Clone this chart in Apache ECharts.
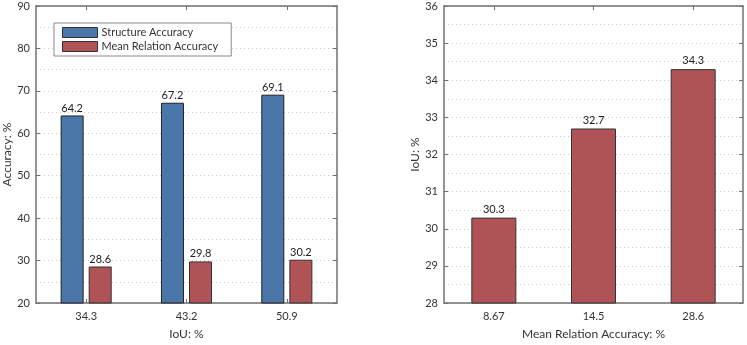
<!DOCTYPE html>
<html>
<head>
<meta charset="utf-8">
<script src="https://cdn.jsdelivr.net/npm/echarts@6/dist/echarts.min.js"></script>
<style>html,body{margin:0;padding:0;background:#fff}#c{width:747px;height:345px}</style>
</head>
<body>
<div id="c"></div>
<script>
// Left chart data
const iouCategories = ['34.3', '43.2', '50.9'];
const structureAccuracy = [64.2, 67.2, 69.1];
const meanRelationAccuracy = [28.6, 29.8, 30.2];
// Right chart data
const mraCategories = ['8.67', '14.5', '28.6'];
const iouValues = [30.3, 32.7, 34.3];

const FONT = 'Lato';
const TXT = '#333';
const AX = '#707070';
const BLUE = '#4a76aa';
const RED = '#b05356';

function xAx(grid, data, name, top) {
  return {
    type: 'category', gridIndex: grid, data: data, position: top ? 'top' : 'bottom',
    name: top ? '' : name, nameLocation: 'middle', nameGap: 25,
    nameTextStyle: {fontFamily: FONT, fontSize: 12, color: TXT},
    axisLine: {show: true, lineStyle: {color: AX, width: 1.5}},
    axisTick: {show: true, inside: true, length: 4, alignWithLabel: true, lineStyle: {color: AX}},
    axisLabel: {show: !top, margin: 8, fontFamily: FONT, fontSize: 11, color: TXT},
    splitLine: {show: false}
  };
}
function yAx(grid, min, max, interval, name, right, gap) {
  return {
    type: 'value', gridIndex: grid, min: min, max: max, interval: interval,
    position: right ? 'right' : 'left',
    name: right ? '' : name, nameLocation: 'middle', nameGap: gap || 24,
    nameTextStyle: {fontFamily: FONT, fontSize: 12, color: TXT},
    axisLine: {show: true, lineStyle: {color: AX, width: 1.5}},
    axisTick: {show: true, inside: true, length: 4, lineStyle: {color: AX}},
    axisLabel: {show: !right, margin: 6, fontFamily: FONT, fontSize: 11, color: TXT},
    splitLine: {show: !right, lineStyle: {color: '#c8c8c8', type: [1, 3], width: 1}},
    minorTick: {show: false, splitNumber: 2},
    minorSplitLine: {show: !right, lineStyle: {color: '#c8c8c8', type: [1, 3], width: 1}}
  };
}

const chart = echarts.init(document.getElementById('c'), null, {renderer: 'canvas'});
chart.setOption({
  animation: false,
  backgroundColor: '#fff',
  grid: [
    {left: 35, top: 6, width: 302, height: 302},
    {left: 444, top: 6, width: 299, height: 301}
  ],
  legend: {
    show: true, orient: 'vertical', left: 54, top: 23,
    data: ['Structure Accuracy', 'Mean Relation Accuracy'],
    itemWidth: 35, itemHeight: 10, itemGap: 3,
    padding: [4, 13, 4, 8],
    backgroundColor: '#fff', borderColor: '#888', borderWidth: 1,
    icon: 'rect',
    itemStyle: {borderWidth: 1, borderColor: '#333'},
    textStyle: {fontFamily: FONT, fontSize: 11, color: TXT, padding: [0, 0, 0, -1]}
  },
  xAxis: [
    xAx(0, iouCategories, 'IoU: %', false),
    xAx(0, iouCategories, '', true),
    xAx(1, mraCategories, 'Mean Relation Accuracy: %', false),
    xAx(1, mraCategories, '', true)
  ],
  yAxis: [
    yAx(0, 20, 90, 10, 'Accuracy: %', false, 23),
    yAx(0, 20, 90, 10, '', true),
    yAx(1, 28, 36, 1, 'IoU: %', false, 20),
    yAx(1, 28, 36, 1, '', true)
  ],
  series: [
    {
      name: 'Structure Accuracy', type: 'bar', xAxisIndex: 0, yAxisIndex: 0,
      data: structureAccuracy, barWidth: 23, barGap: '22%',
      itemStyle: {color: BLUE, borderColor: '#222', borderWidth: 1},
      label: {show: true, position: 'top', distance: 2, fontFamily: FONT, fontSize: 11, color: '#222'}
    },
    {
      name: 'Mean Relation Accuracy', type: 'bar', xAxisIndex: 0, yAxisIndex: 0,
      data: meanRelationAccuracy, barWidth: 23, barGap: '22%',
      itemStyle: {color: RED, borderColor: '#333', borderWidth: 1},
      label: {show: true, position: 'top', distance: 2, fontFamily: FONT, fontSize: 11, color: '#222'}
    },
    {
      name: 'IoU', type: 'bar', xAxisIndex: 2, yAxisIndex: 2,
      data: iouValues, barWidth: 45,
      itemStyle: {color: RED, borderColor: '#333', borderWidth: 1},
      label: {show: true, position: 'top', distance: 3, fontFamily: FONT, fontSize: 11, color: '#222'}
    }
  ]
});
</script>
</body>
</html>
